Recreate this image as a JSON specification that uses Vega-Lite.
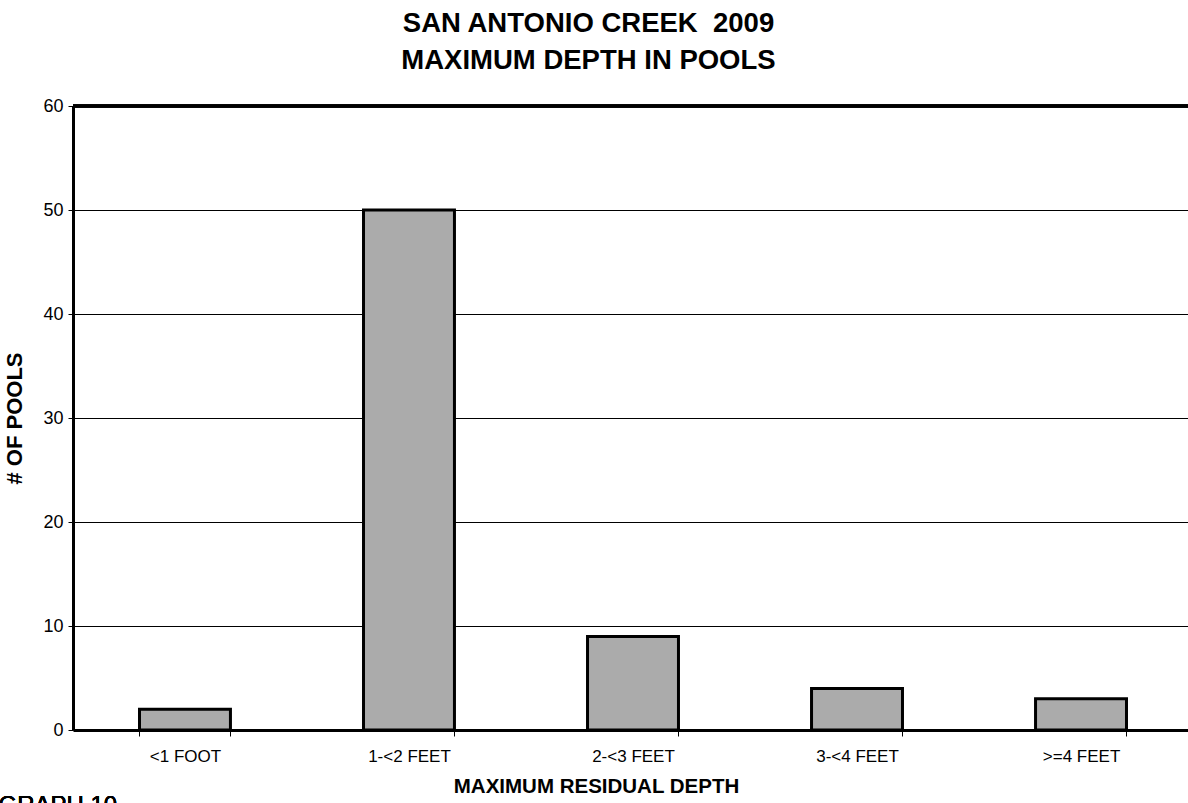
{
  "$schema": "https://vega.github.io/schema/vega-lite/v6.json",
  "autosize": {"type": "none"},
  "padding": {"left": 73, "top": 106, "right": 0, "bottom": 73},
  "width": 1115,
  "height": 624,
  "background": "white",
  "config": {
    "font": "Liberation Sans",
    "view": {"stroke": null},
    "axis": {"labelFont": "Liberation Sans", "titleFont": "Liberation Sans", "labelColor": "black", "titleColor": "black"}
  },
  "title": {
    "text": ["SAN ANTONIO CREEK\u00a0 2009", "MAXIMUM DEPTH IN POOLS"],
    "font": "Liberation Sans",
    "fontSize": 27.5,
    "fontWeight": "bold",
    "color": "black",
    "anchor": "middle",
    "lineHeight": 37,
    "offset": 23,
    "dx": -42
  },
  "data": {
    "values": [
      {"depth": "<1 FOOT", "pools": 2},
      {"depth": "1-<2 FEET", "pools": 50},
      {"depth": "2-<3 FEET", "pools": 9},
      {"depth": "3-<4 FEET", "pools": 4},
      {"depth": ">=4 FEET", "pools": 3}
    ]
  },
  "layer": [
    {
      "mark": {"type": "bar", "fill": "#ababab", "stroke": "black", "strokeWidth": 3},
      "encoding": {
        "x": {
          "field": "depth",
          "type": "nominal",
          "sort": null,
          "scale": {"paddingInner": 0.594, "paddingOuter": 0.2857, "align": 0.5195},
          "axis": {
            "title": "MAXIMUM RESIDUAL DEPTH",
            "titleFontSize": 20.5,
            "titleFontWeight": "bold",
            "titleX": 523,
            "titlePadding": 12,
            "labelAngle": 0,
            "labelFontSize": 17,
            "labelPadding": 12,
            "tickBand": "extent",
            "tickSize": 6,
            "tickColor": "black",
            "tickWidth": 1,
            "domainColor": "black",
            "domainWidth": 3
          }
        },
        "y": {
          "field": "pools",
          "type": "quantitative",
          "scale": {"domain": [0, 60], "nice": false},
          "axis": {
            "title": "# OF POOLS",
            "titleFontSize": 22,
            "titleFontWeight": "bold",
            "titlePadding": 16,
            "values": [0, 10, 20, 30, 40, 50, 60],
            "labelFontSize": 18,
            "labelPadding": 5,
            "tickSize": 5,
            "tickColor": "black",
            "tickWidth": 1,
            "domainColor": "black",
            "domainWidth": 3,
            "grid": true,
            "gridColor": "black",
            "gridWidth": 1,
            "gridOpacity": 1
          }
        }
      }
    },
    {
      "mark": {"type": "rule", "color": "black", "strokeWidth": 3},
      "encoding": {"y": {"datum": 60}}
    },
    {
      "mark": {"type": "text", "text": "GRAPH 10", "fontSize": 24, "fontWeight": "normal", "align": "left", "baseline": "top", "dx": -141, "font": "Liberation Sans", "color": "black"},
      "encoding": {
        "x": {"datum": "<1 FOOT", "bandPosition": 0},
        "y": {"datum": -6.2}
      }
    }
  ]
}
